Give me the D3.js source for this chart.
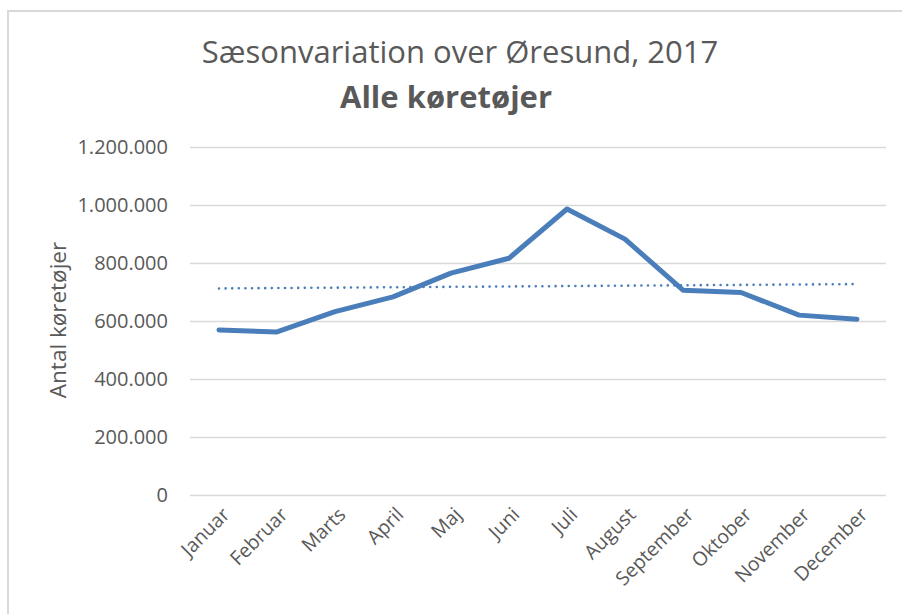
<!DOCTYPE html>
<html>
<head>
<meta charset="utf-8">
<script src="https://cdn.jsdelivr.net/npm/d3@7"></script>
<style>
  body { margin: 0; background: #fff; }
  text { font-family: "Open Sans", sans-serif; fill: #595959; }
</style>
</head>
<body>
<div id="chart"></div>
<script>
// month labels and traffic (vehicles)
const months = ["Januar", "Februar", "Marts", "April", "Maj", "Juni", "Juli", "August", "September", "Oktober", "November", "December"];
const vehicles = [571000, 564000, 634000, 685000, 767000, 818000, 988000, 884000, 708000, 700000, 622000, 608000];
// linear trendline, value at first and last month
const trendMonths = ["Januar", "December"];
const trendValues = [714000, 729000];
const yTicks = [0, 200000, 400000, 600000, 800000, 1000000, 1200000];

const W = 902, H = 614;
const margin = {top: 147.5, right: 16, bottom: 118.5, left: 190};

const svg = d3.select("#chart").append("svg")
  .attr("width", W).attr("height", H);

// chart area border (runs off the right and bottom of the picture)
svg.append("rect")
  .attr("x", 8).attr("y", 11)
  .attr("width", W + 20).attr("height", H + 20)
  .attr("fill", "none").attr("stroke", "#d9d9d9").attr("stroke-width", 2);

const x = d3.scaleBand().domain(months)
  .range([margin.left, W - margin.right]).padding(0);
const y = d3.scaleLinear().domain([0, 1200000])
  .range([H - margin.bottom, margin.top]);

const dk = d3.formatLocale({decimal: ",", thousands: ".", grouping: [3], currency: ["", " kr"]});
const fmt = dk.format(",");

// gridlines
svg.append("g").selectAll("line")
  .data(yTicks).enter().append("line")
  .attr("x1", margin.left).attr("x2", W - margin.right)
  .attr("y1", d => y(d)).attr("y2", d => y(d))
  .attr("stroke", "#d9d9d9").attr("stroke-width", 1.5);

// y axis labels
const yAxis = d3.axisLeft(y).tickValues(yTicks).tickFormat(fmt).tickSize(0).tickPadding(22);
const gY = svg.append("g").attr("transform", "translate(" + margin.left + ",0)").call(yAxis);
gY.select(".domain").remove();
gY.selectAll("text").style("font-size", "20px").attr("fill", "#595959")
  .style("font-family", "'Open Sans', sans-serif");

// x axis labels, rotated
const cx = d => x(d) + x.bandwidth() / 2;
svg.append("g").selectAll("text")
  .data(months).enter().append("text")
  .attr("transform", d => "translate(" + (cx(d) + 7) + "," + 511 + ") rotate(-45)")
  .attr("text-anchor", "end")
  .attr("dy", "0.35em")
  .style("font-size", "19.5px")
  .text(d => d);

// series line
const line = d3.line().x((d, i) => cx(months[i])).y(d => y(d));
svg.append("path")
  .datum(vehicles)
  .attr("d", line)
  .attr("fill", "none")
  .attr("stroke", "#4a7ebb")
  .attr("stroke-width", 5)
  .attr("stroke-linejoin", "round")
  .attr("stroke-linecap", "round");

// dotted trendline
const tline = d3.line().x((d, i) => cx(trendMonths[i])).y(d => y(d));
svg.append("path")
  .datum(trendValues)
  .attr("d", tline)
  .attr("fill", "none")
  .attr("stroke", "#4a7ebb")
  .attr("stroke-width", 2.6)
  .attr("stroke-linecap", "round")
  .attr("stroke-dasharray", "0 6.6");

// titles
svg.append("text")
  .attr("x", 460).attr("y", 63)
  .attr("text-anchor", "middle")
  .style("font-size", "31px")
  .text("Sæsonvariation over Øresund, 2017");
svg.append("text")
  .attr("x", 446).attr("y", 108)
  .attr("text-anchor", "middle")
  .style("font-size", "31px").style("font-weight", "bold")
  .text("Alle køretøjer");

// y axis title
svg.append("text")
  .attr("transform", "translate(57,320) rotate(-90)")
  .attr("text-anchor", "middle")
  .attr("dominant-baseline", "central")
  .style("font-size", "22.5px")
  .text("Antal køretøjer");
</script>
</body>
</html>
